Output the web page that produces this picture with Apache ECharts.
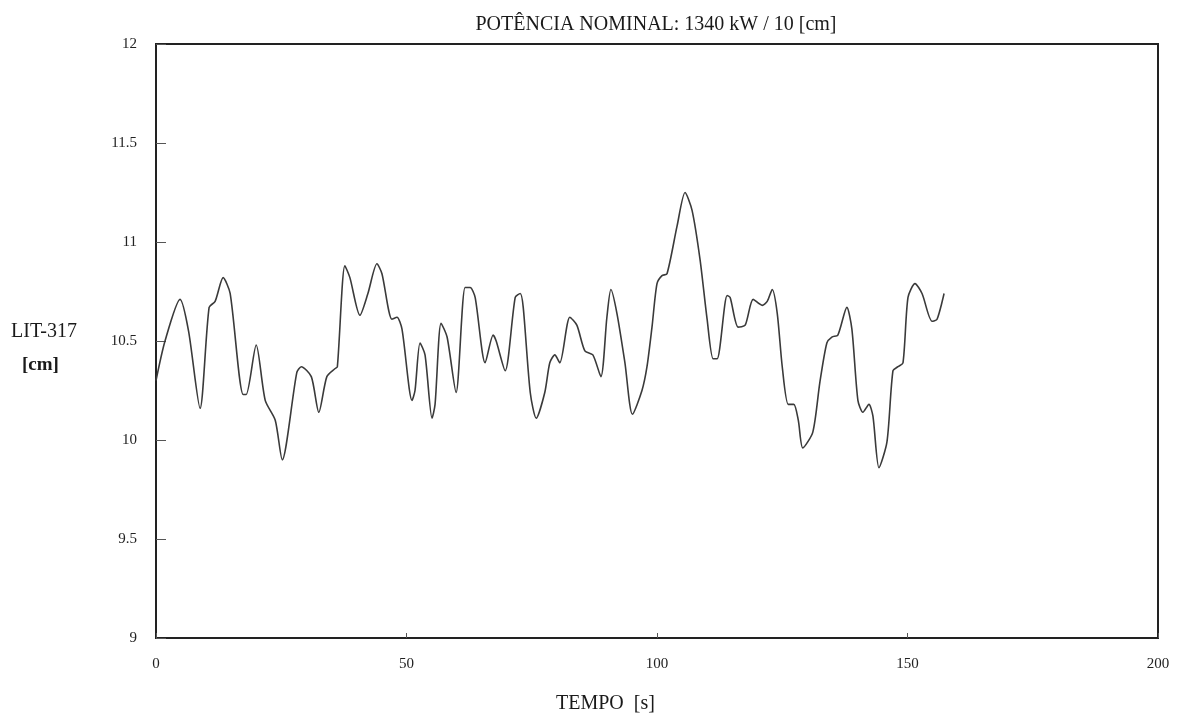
<!DOCTYPE html>
<html>
<head>
<meta charset="utf-8">
<script src="https://cdn.jsdelivr.net/npm/echarts@6/dist/echarts.min.js"></script>
<style>
html,body{margin:0;padding:0;background:#fff;}
#chart{width:1190px;height:717px;}
</style>
</head>
<body>
<div id="chart"></div>
<script>
var titleText = 'POTÊNCIA NOMINAL: 1340 kW / 10 [cm]';
var xName = 'TEMPO  [s]';
var yName1 = 'LIT-317';
var yName2 = '[cm]';
var yTicks = [9, 9.5, 10, 10.5, 11, 11.5, 12];
var xTicks = [0, 50, 100, 150, 200];

var time = [0, 1.8, 4.8, 6.5, 8.8, 10.6, 11.8, 13.4, 14.8, 17.4, 18, 20, 21.8, 23.8, 25.2, 28.1, 29, 31, 32.5,
  34.1, 35.7, 36.2, 37.7, 38.7, 40.7, 42.3, 44.1, 45.1, 47.1, 48.1, 49.1, 51.1, 51.7, 52.7, 53.7, 55.1, 55.7,
  56.9, 58.1, 59.9, 61.7, 62.7, 63.7, 65.7, 67.3, 67.9, 69.7, 71.7, 72.7, 73.3, 74.7, 75.9, 77.6, 78.6, 79.6,
  80.6, 82.6, 84, 85.6, 87.2, 88.8, 90, 90.8, 92, 93.6, 95.1, 97, 98, 99, 100, 101, 102, 104, 105.6, 107,
  108.6, 110, 111.2, 112, 114, 114.6, 116.2, 117.6, 119.2, 121, 122, 123, 124, 125, 126.2, 127.3, 128.2,
  129.1, 131.1, 132.5, 133.9, 134.9, 136.1, 137.9, 138.9, 140.1, 141.1, 142.3, 143.1, 144.3, 145.9, 147.1,
  148.1, 149.1, 150.1, 151.5, 152.9, 154.9, 155.9, 157.3];
var level = [10.3, 10.5, 10.71, 10.55, 10.16, 10.67, 10.7, 10.82, 10.74, 10.23, 10.23, 10.48, 10.2, 10.1, 9.9,
  10.34, 10.37, 10.32, 10.14,
  10.32, 10.36, 10.37, 10.88, 10.82, 10.63, 10.74, 10.89, 10.84, 10.61, 10.62, 10.56, 10.2, 10.25, 10.49, 10.43, 10.11, 10.18,
  10.59, 10.52, 10.24, 10.77, 10.77, 10.72, 10.39, 10.53, 10.5, 10.35, 10.72, 10.74, 10.67, 10.24, 10.11, 10.24, 10.39, 10.43,
  10.39, 10.62, 10.58, 10.45, 10.43, 10.32, 10.62, 10.76, 10.64, 10.39, 10.13, 10.25, 10.37, 10.57, 10.79, 10.83, 10.84, 11.08, 11.25, 11.16,
  10.91, 10.61, 10.41, 10.41, 10.73, 10.72, 10.57, 10.58, 10.71, 10.68, 10.7, 10.76, 10.64, 10.37, 10.18, 10.18, 10.1,
  9.96, 10.04, 10.29, 10.49, 10.52, 10.53, 10.67, 10.56, 10.2, 10.14, 10.18, 10.12, 9.86, 9.99, 10.35,
  10.37, 10.39, 10.72, 10.79, 10.74, 10.6, 10.61, 10.74];

var data = time.map(function (t, i) { return [t, level[i]]; });
var serif = '"Liberation Serif", "DejaVu Serif", serif';

var chart = echarts.init(document.getElementById('chart'));
chart.setOption({
  animation: false,
  backgroundColor: '#fff',
  title: {
    text: titleText, left: 651, top: 10, textAlign: 'center',
    textStyle: { fontFamily: serif, fontSize: 20, fontWeight: 'normal', color: '#1a1a1a' }
  },
  grid: { left: 156, right: 32, top: 44, bottom: 79, show: true, borderColor: '#222', borderWidth: 2, backgroundColor: 'transparent' },
  xAxis: {
    type: 'value', min: 0, max: 200, interval: 50,
    axisLine: { show: true, lineStyle: { color: '#222', width: 2 } },
    axisTick: { show: true, inside: true, length: 5, lineStyle: { color: '#555' } },
    axisLabel: { fontFamily: serif, fontSize: 15, color: '#222', margin: 19,
      formatter: function (v) { return xTicks.indexOf(v) >= 0 ? String(v) : ''; } },
    splitLine: { show: false }
  },
  yAxis: {
    type: 'value', min: 9, max: 12, interval: 0.5,
    axisLine: { show: true, lineStyle: { color: '#222', width: 2 } },
    axisTick: { show: true, inside: true, length: 10, lineStyle: { color: '#555' } },
    axisLabel: { fontFamily: serif, fontSize: 15, color: '#222', margin: 19,
      formatter: function (v) { return yTicks.indexOf(v) >= 0 ? String(v) : ''; } },
    splitLine: { show: false }
  },
  graphic: [
    { type: 'text', left: 11, top: 322, style: { text: yName1, font: '20px ' + serif, fill: '#1a1a1a' } },
    { type: 'text', left: 22, top: 356, style: { text: yName2, font: 'bold 19px ' + serif, fill: '#1a1a1a' } },
    { type: 'text', left: 556, top: 694, style: { text: xName, font: '20px ' + serif, fill: '#1a1a1a' } }
  ],
  series: [{
    type: 'line', data: data, smooth: 0.25, showSymbol: false,
    lineStyle: { color: '#3a3a3a', width: 1.6 }
  }]
});
</script>
</body>
</html>
